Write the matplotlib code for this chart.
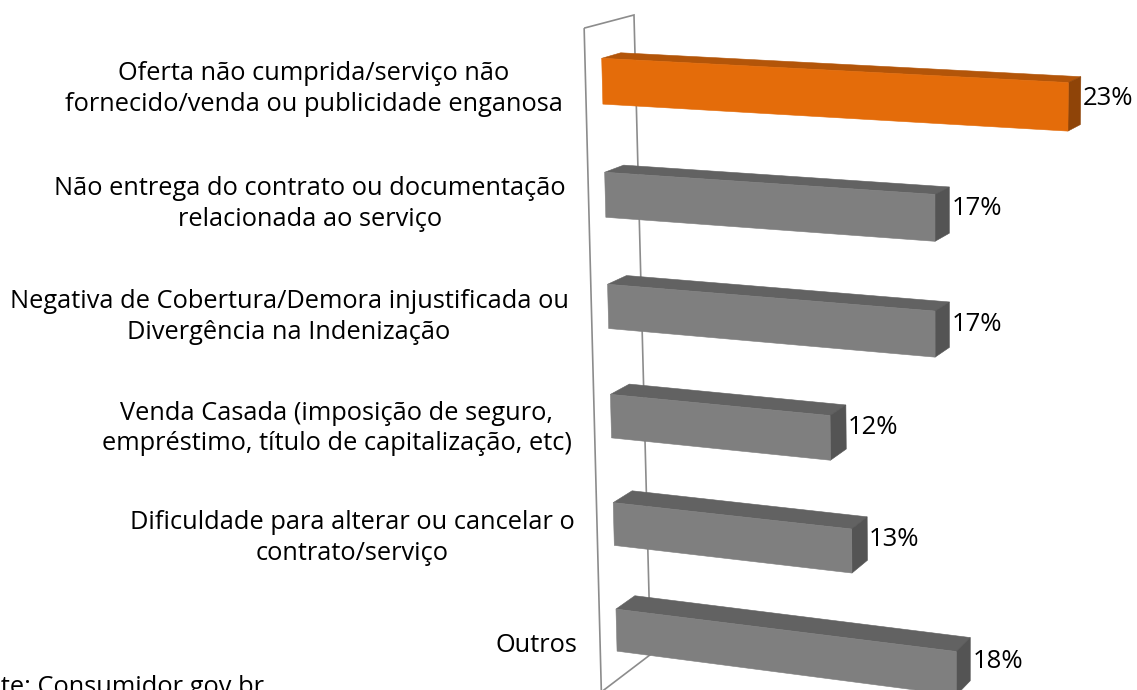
import matplotlib
matplotlib.use('Agg')
import matplotlib.pyplot as plt
from matplotlib.patches import Polygon
import numpy as np

plt.rcParams['font.family'] = ['Open Sans', 'DejaVu Sans']

# dados
categorias = [
    'Oferta não cumprida/serviço não\nfornecido/venda ou publicidade enganosa',
    'Não entrega do contrato ou documentação\nrelacionada ao serviço',
    'Negativa de Cobertura/Demora injustificada ou\nDivergência na Indenização',
    'Venda Casada (imposição de seguro,\nempréstimo, título de capitalização, etc)',
    'Dificuldade para alterar ou cancelar o\ncontrato/serviço',
    'Outros',
]
valores = [23, 17, 17, 12, 13, 18]
fonte = 'Fonte: Consumidor.gov.br'

# cores (frente, topo, lado)
corDestaque = ('#E46C0A', '#B35509', '#8F4408')
corNormal = ('#7F7F7F', '#626262', '#545454')
indiceDestaque = 0

# perspectiva estilo grafico 3D do Excel: plano frontal (valor, linha) -> pixel
H = np.array([[18.47, 8.22, 601.7],
              [0.888, 115.46, 58.3],
              [-0.002658, 0.00871, 1.0]])
pontoFuga = np.array([1944.0, -330.0])   # fuga da profundidade
vMin = 1.1
alturaBarra = 0.4
profBarra = 0.0142
paredeFrente, paredeFundo = -0.0124, 0.0247
paredeTopo, paredeBase = -0.3, 5.67


def projetar(v, u, t=0.0):
    x, y, w = H @ np.array([v - vMin, u, 1.0])
    p = np.array([x / w, y / w])
    return p + (pontoFuga - p) * t


fig = plt.figure(figsize=(11.37, 6.90), dpi=100)
ax = fig.add_axes([0, 0, 1, 1])
ax.set_xlim(0, 1137)
ax.set_ylim(690, 0)
ax.axis('off')

# parede lateral (so o contorno)
parede = [projetar(vMin, paredeTopo, paredeFrente), projetar(vMin, paredeTopo, paredeFundo),
          projetar(vMin, paredeBase, paredeFundo), projetar(vMin, paredeBase, paredeFrente)]
ax.add_patch(Polygon(parede, closed=True, fill=False, edgecolor='#8C8C8C', lw=1.2, zorder=1))

for i, (cat, v) in enumerate(zip(categorias, valores)):
    cores = corDestaque if i == indiceDestaque else corNormal
    topo, base = i, i + alturaBarra
    frente = [projetar(vMin, topo), projetar(v, topo), projetar(v, base), projetar(vMin, base)]
    cima = [projetar(vMin, topo), projetar(v, topo), projetar(v, topo, profBarra), projetar(vMin, topo, profBarra)]
    lado = [projetar(v, topo), projetar(v, base), projetar(v, base, profBarra), projetar(v, topo, profBarra)]
    for face, cor in zip([cima, lado, frente], [cores[1], cores[2], cores[0]]):
        ax.add_patch(Polygon(face, closed=True, facecolor=cor, edgecolor=cor, lw=0.4, zorder=2))

    # rotulo do valor, a direita da barra
    cantos = np.array(lado)
    xr = lado[3][0] + 2
    yr = cantos[:, 1].mean() - 5
    ax.text(xr, yr, '%d%%' % v, ha='left', va='center', fontsize=18.5, color='black', zorder=3)

    # rotulo da categoria
    pc = projetar(vMin, i + alturaBarra / 2, paredeFrente)
    ax.text(pc[0] - 23, pc[1] + 3, cat, ha='right', va='center', multialignment='center',
            fontsize=18.3, linespacing=1.3, color='black', zorder=3)

ax.text(264, 694, fonte, ha='right', va='baseline', fontsize=18.3, color='black')

fig.savefig('out.png', dpi=100)
